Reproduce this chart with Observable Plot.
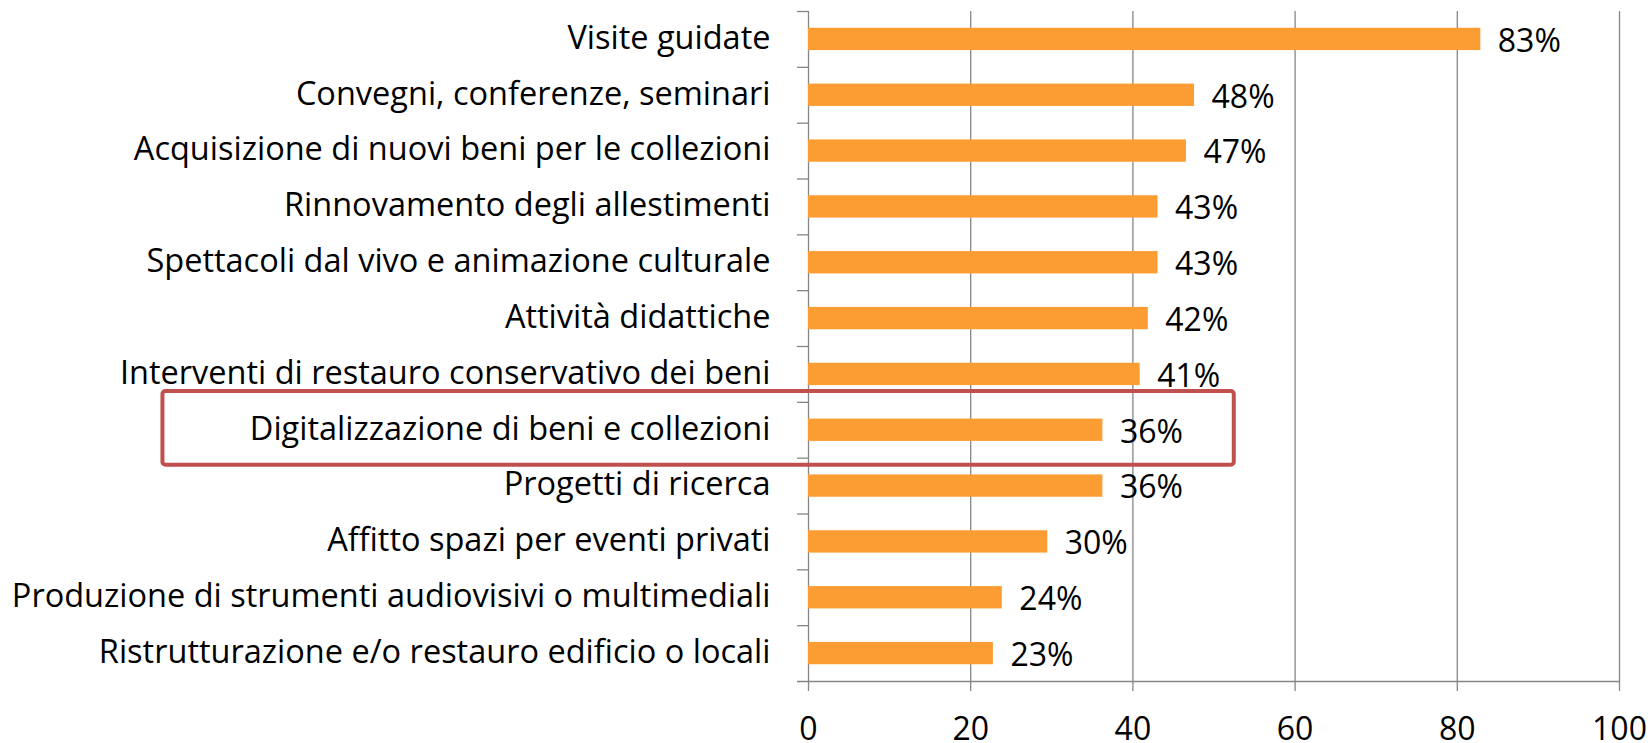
<!DOCTYPE html>
<html>
<head>
<meta charset="utf-8">
<script src="https://cdn.jsdelivr.net/npm/d3@7"></script>
<script src="https://cdn.jsdelivr.net/npm/@observablehq/plot@0.6"></script>
<style>
  html, body { margin: 0; padding: 0; background: #fff; overflow: hidden; }
  #chart svg { display: block; }
</style>
</head>
<body>
<div id="chart"></div>
<script>
const categories = [
  "Visite guidate",
  "Convegni, conferenze, seminari",
  "Acquisizione di nuovi beni per le collezioni",
  "Rinnovamento degli allestimenti",
  "Spettacoli dal vivo e animazione culturale",
  "Attività didattiche",
  "Interventi di restauro conservativo dei beni",
  "Digitalizzazione di beni e collezioni",
  "Progetti di ricerca",
  "Affitto spazi per eventi privati",
  "Produzione di strumenti audiovisivi o multimediali",
  "Ristrutturazione e/o restauro edificio o locali"
];
const values = [82.9, 47.6, 46.6, 43.1, 43.1, 41.9, 40.9, 36.3, 36.3, 29.5, 23.9, 22.8];
const valueLabels = ["83%", "48%", "47%", "43%", "43%", "42%", "41%", "36%", "36%", "30%", "24%", "23%"];
const xTicks = [0, 20, 40, 60, 80, 100];
const highlighted = ["Digitalizzazione di beni e collezioni"];
const highlightExtent = [-79.6, 52.5];

const rows = categories.map((c, i) => ({category: c, value: values[i], label: valueLabels[i]}));

const W = 1650, H = 743;
const mT = 11, mB = 62, mL = 808, mR = 31;
const step = (H - mT - mB) / categories.length;
const gray = "#868686";
const orange = "#fc9d33";
const red = "#c0504d";
const stubLen = 11 / ((W - mL - mR) / 100);

const chart = Plot.plot({
  width: W,
  height: H,
  marginTop: mT,
  marginBottom: mB,
  marginLeft: mL,
  marginRight: mR,
  style: {fontFamily: "'Open Sans', sans-serif", fontSize: "32px", color: "#000", background: "#fff"},
  x: {domain: [0, 100], label: null},
  y: {domain: categories, paddingInner: 0.6, paddingOuter: 0.3, round: false, label: null},
  marks: [
    Plot.ruleX(xTicks, {stroke: gray, strokeWidth: 1.3}),
    Plot.ruleY(categories, {y: d => d, x1: () => -stubLen, x2: () => 0, dy: -step / 2, stroke: gray, strokeWidth: 1.3}),
    Plot.ruleY([categories[categories.length - 1]], {y: d => d, x1: () => -stubLen, x2: () => 100, dy: step / 2, stroke: gray, strokeWidth: 1.3}),
    Plot.barX(rows, {y: "category", x: "value", fill: orange}),
    Plot.text(rows, {y: "category", x: "value", text: "label", textAnchor: "start", dx: 17, dy: 2, fontSize: 32, fill: "#000"}),
    Plot.axisX({ticks: xTicks, tickSize: 10, tickPadding: 26, stroke: gray, strokeWidth: 1.3, fontSize: 32, label: null}),
    Plot.axisY({tickSize: 0, tickPadding: 38, fontSize: 32.5, dy: -1, label: null}),
    Plot.rect(highlighted, {
      y: d => d,
      x1: () => highlightExtent[0],
      x2: () => highlightExtent[1],
      insetTop: -27.6,
      insetBottom: -23.8,
      fill: "none",
      stroke: red,
      strokeWidth: 4,
      rx: 3
    })
  ]
});
document.getElementById("chart").appendChild(chart);
</script>
</body>
</html>
